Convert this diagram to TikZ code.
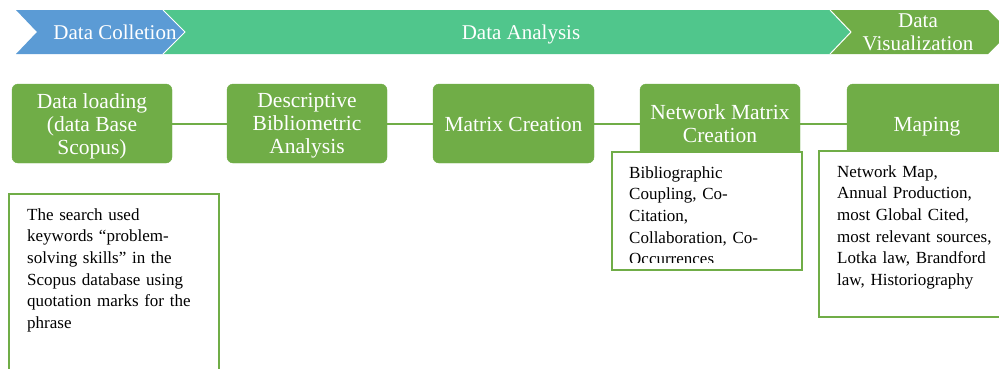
\documentclass[tikz,border=0pt]{standalone}
\usepackage{fontspec}
\setmainfont{Liberation Serif}
\definecolor{vblue}{HTML}{5B9BD5}
\definecolor{vteal}{HTML}{50C68C}
\definecolor{vgreen}{HTML}{70AD47}
\tikzset{
  chev/.style={draw=white, line width=1pt},
  chevtext/.style={text=white, align=center, inner sep=0, font=\fontsize{21}{23}\selectfont},
  gbox/.style={fill=vgreen, draw=vgreen, rounded corners=6pt, inner sep=0,
    minimum height=79pt, minimum width=160pt},
  gtext/.style={text=white, align=center, inner sep=0, font=\fontsize{21.5}{23}\selectfont},
  tbox/.style={draw=vgreen, line width=1.8pt, fill=white},
  btext/.style={align=left, anchor=base west, inner sep=0, text width=190pt,
    font=\fontsize{17}{21.7}\selectfont},
  link/.style={draw=vgreen, line width=2pt}
}
\begin{document}
\begin{tikzpicture}[x=1pt, y=-1pt]
\useasboundingbox (0,0) rectangle (999,368);
% phase chevrons
\fill[vblue] (16,10) -- (163,10) -- (185,32) -- (163,54) -- (16,54) -- (37,32) -- cycle;
\fill[vteal] (163,10) -- (830,10) -- (851,32) -- (830,54) -- (163,54) -- (185,32) -- cycle;
\fill[vgreen] (830,10) -- (988,10) -- (1010,32) -- (988,54) -- (830,54) -- (851,32) -- cycle;
\draw[chev] (163,10) -- (185,32) -- (163,54);
\draw[chev] (830,10) -- (851,32) -- (830,54);
\node[chevtext, anchor=base] (ph1) at (115,39.5) {Data Colletion};
\node[chevtext, anchor=base] (ph2) at (521,39.5) {Data Analysis};
\node[chevtext] (ph3) at (918,32) {Data\\Visualization};
% process boxes
\node[gbox] (b1) at (92,123.5) {};
\node[gbox] (b2) at (307,123.5) {};
\node[gbox, minimum width=161pt] (b3) at (513.5,123.5) {};
\node[gbox] (b4) at (720,123.5) {};
\node[gbox] (b5) at (927,123.5) {};
\node[gtext] (b1t) at ([yshift=-2.5pt]b1.center) {Data loading\\(data Base\\Scopus)};
\node[gtext] (b2t) at ([yshift=-2.5pt]b2.center) {Descriptive\\Bibliometric\\Analysis};
\node[gtext, anchor=base] (b3t) at ([yshift=-7.5pt]b3.center) {Matrix Creation};
\node[gtext] (b4t) at ([yshift=-0.5pt]b4.center) {Network Matrix\\Creation};
\node[gtext, anchor=base] (b5t) at ([yshift=-7.5pt]b5.center) {Maping};
\draw[link] (b1) -- (b2);
\draw[link] (b2) -- (b3);
\draw[link] (b3) -- (b4);
\draw[link] (b4) -- (b5);
% description boxes
\draw[tbox] (9,194) rectangle (219,380);
\node[btext] (t1) at (27,220) {The search used\\keywords “problem-\\solving skills” in the\\Scopus database using\\quotation marks for the\\phrase};
\draw[tbox] (612,152) rectangle (802,270);
\begin{scope}
\clip (613,153) rectangle (801,262);
\node[btext] (t2) at (629,178) {Bibliographic\\Coupling, Co-\\Citation,\\Collaboration, Co-\\Occurrences};
\end{scope}
\draw[tbox] (819,151) rectangle (1010,317);
\node[btext] (t3) at (837,177) {Network Map,\\Annual Production,\\most Global Cited,\\most relevant sources,\\Lotka law, Brandford\\law, Historiography};
\end{tikzpicture}
\end{document}
